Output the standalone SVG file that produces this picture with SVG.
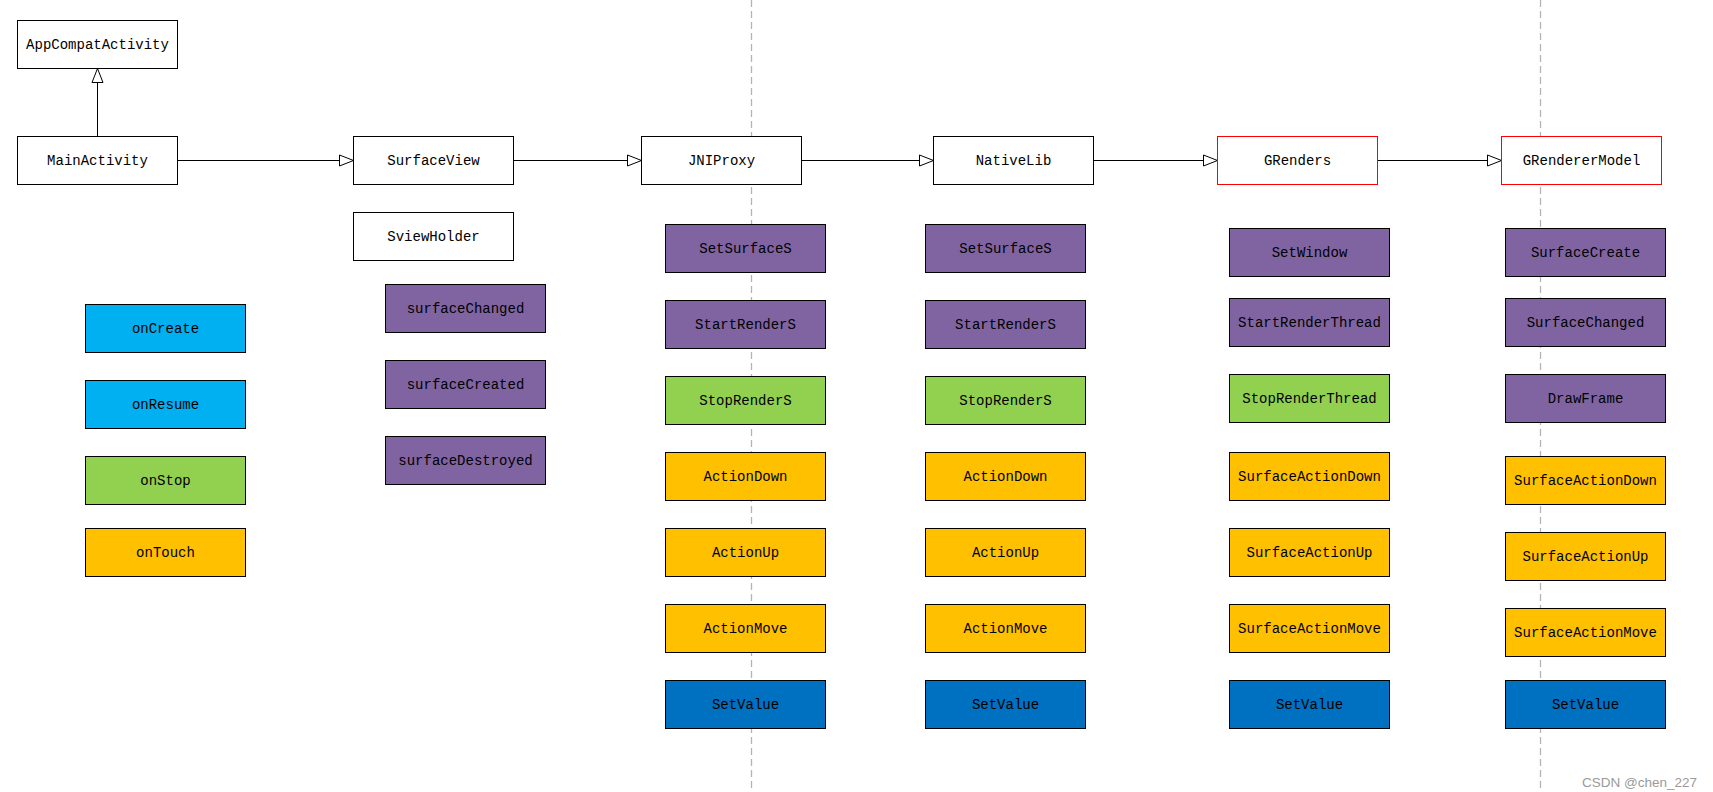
<svg xmlns="http://www.w3.org/2000/svg" width="1713" height="792" viewBox="0 0 1713 792">
<style>
  .b rect { stroke: #000; stroke-width: 1; }
  .w rect { fill: #fff; }
  .red rect { fill: #fff; stroke: #ff0000; }
  .pu rect { fill: #8064a2; }
  .lb rect { fill: #00b0f0; }
  .gr rect { fill: #92d050; }
  .or rect { fill: #ffc000; }
  .db rect { fill: #0070c0; }
  text { font-family: "Liberation Mono", "DejaVu Sans Mono", monospace; font-size: 14px; fill: #000; text-anchor: middle; dominant-baseline: central; }
  .dash { stroke: #b4b4b4; stroke-width: 1.3; stroke-dasharray: 7 4; fill: none; }
  .conn line { stroke: #000; stroke-width: 1; }
  .wm { font-family: "Liberation Sans", Arial, sans-serif; font-size: 13.5px; fill: #9a9a9a; text-anchor: end; }
</style>
<defs>
  <marker id="tri" markerUnits="userSpaceOnUse" markerWidth="16" markerHeight="13" refX="14" refY="5.5" orient="auto" overflow="visible">
    <path d="M0,0 L14,5.5 L0,11 Z" fill="#fff" stroke="#000" stroke-width="1"/>
  </marker>
</defs>
<rect x="0" y="0" width="1713" height="792" fill="#fff"/>
<g id="lanes">
  <line class="dash" x1="751.5" y1="0" x2="751.5" y2="792"/>
  <line class="dash" x1="1540.5" y1="0" x2="1540.5" y2="792"/>
</g>
<g id="connectors" class="conn">
  <line x1="97.5" y1="136.5" x2="97.5" y2="68.5" marker-end="url(#tri)"/>
  <line x1="177.5" y1="160.5" x2="353.5" y2="160.5" marker-end="url(#tri)"/>
  <line x1="513.5" y1="160.5" x2="641.5" y2="160.5" marker-end="url(#tri)"/>
  <line x1="801.5" y1="160.5" x2="933.5" y2="160.5" marker-end="url(#tri)"/>
  <line x1="1093.5" y1="160.5" x2="1217.5" y2="160.5" marker-end="url(#tri)"/>
  <line x1="1377.5" y1="160.5" x2="1501.5" y2="160.5" marker-end="url(#tri)"/>
</g>
<g id="AppCompatActivity" class="b w"><rect x="17.5" y="20.5" width="160" height="48"/><text x="97.5" y="44.5">AppCompatActivity</text></g>
<g id="MainActivity" class="b w"><rect x="17.5" y="136.5" width="160" height="48"/><text x="97.5" y="160.5">MainActivity</text></g>
<g id="SurfaceView" class="b w"><rect x="353.5" y="136.5" width="160" height="48"/><text x="433.5" y="160.5">SurfaceView</text></g>
<g id="SviewHolder" class="b w"><rect x="353.5" y="212.5" width="160" height="48"/><text x="433.5" y="236.5">SviewHolder</text></g>
<g id="JNIProxy" class="b w"><rect x="641.5" y="136.5" width="160" height="48"/><text x="721.5" y="160.5">JNIProxy</text></g>
<g id="NativeLib" class="b w"><rect x="933.5" y="136.5" width="160" height="48"/><text x="1013.5" y="160.5">NativeLib</text></g>
<g id="GRenders" class="b red"><rect x="1217.5" y="136.5" width="160" height="48"/><text x="1297.5" y="160.5">GRenders</text></g>
<g id="GRendererModel" class="b red"><rect x="1501.5" y="136.5" width="160" height="48"/><text x="1581.5" y="160.5">GRendererModel</text></g>

<g id="onCreate" class="b lb"><rect x="85.5" y="304.5" width="160" height="48"/><text x="165.5" y="328.5">onCreate</text></g>
<g id="onResume" class="b lb"><rect x="85.5" y="380.5" width="160" height="48"/><text x="165.5" y="404.5">onResume</text></g>
<g id="onStop" class="b gr"><rect x="85.5" y="456.5" width="160" height="48"/><text x="165.5" y="480.5">onStop</text></g>
<g id="onTouch" class="b or"><rect x="85.5" y="528.5" width="160" height="48"/><text x="165.5" y="552.5">onTouch</text></g>

<g id="surfaceChanged" class="b pu"><rect x="385.5" y="284.5" width="160" height="48"/><text x="465.5" y="308.5">surfaceChanged</text></g>
<g id="surfaceCreated" class="b pu"><rect x="385.5" y="360.5" width="160" height="48"/><text x="465.5" y="384.5">surfaceCreated</text></g>
<g id="surfaceDestroyed" class="b pu"><rect x="385.5" y="436.5" width="160" height="48"/><text x="465.5" y="460.5">surfaceDestroyed</text></g>

<g id="jni-SetSurfaceS" class="b pu"><rect x="665.5" y="224.5" width="160" height="48"/><text x="745.5" y="248.5">SetSurfaceS</text></g>
<g id="jni-StartRenderS" class="b pu"><rect x="665.5" y="300.5" width="160" height="48"/><text x="745.5" y="324.5">StartRenderS</text></g>
<g id="jni-StopRenderS" class="b gr"><rect x="665.5" y="376.5" width="160" height="48"/><text x="745.5" y="400.5">StopRenderS</text></g>
<g id="jni-ActionDown" class="b or"><rect x="665.5" y="452.5" width="160" height="48"/><text x="745.5" y="476.5">ActionDown</text></g>
<g id="jni-ActionUp" class="b or"><rect x="665.5" y="528.5" width="160" height="48"/><text x="745.5" y="552.5">ActionUp</text></g>
<g id="jni-ActionMove" class="b or"><rect x="665.5" y="604.5" width="160" height="48"/><text x="745.5" y="628.5">ActionMove</text></g>
<g id="jni-SetValue" class="b db"><rect x="665.5" y="680.5" width="160" height="48"/><text x="745.5" y="704.5">SetValue</text></g>

<g id="nl-SetSurfaceS" class="b pu"><rect x="925.5" y="224.5" width="160" height="48"/><text x="1005.5" y="248.5">SetSurfaceS</text></g>
<g id="nl-StartRenderS" class="b pu"><rect x="925.5" y="300.5" width="160" height="48"/><text x="1005.5" y="324.5">StartRenderS</text></g>
<g id="nl-StopRenderS" class="b gr"><rect x="925.5" y="376.5" width="160" height="48"/><text x="1005.5" y="400.5">StopRenderS</text></g>
<g id="nl-ActionDown" class="b or"><rect x="925.5" y="452.5" width="160" height="48"/><text x="1005.5" y="476.5">ActionDown</text></g>
<g id="nl-ActionUp" class="b or"><rect x="925.5" y="528.5" width="160" height="48"/><text x="1005.5" y="552.5">ActionUp</text></g>
<g id="nl-ActionMove" class="b or"><rect x="925.5" y="604.5" width="160" height="48"/><text x="1005.5" y="628.5">ActionMove</text></g>
<g id="nl-SetValue" class="b db"><rect x="925.5" y="680.5" width="160" height="48"/><text x="1005.5" y="704.5">SetValue</text></g>

<g id="gr-SetWindow" class="b pu"><rect x="1229.5" y="228.5" width="160" height="48"/><text x="1309.5" y="252.5">SetWindow</text></g>
<g id="gr-StartRenderThread" class="b pu"><rect x="1229.5" y="298.5" width="160" height="48"/><text x="1309.5" y="322.5">StartRenderThread</text></g>
<g id="gr-StopRenderThread" class="b gr"><rect x="1229.5" y="374.5" width="160" height="48"/><text x="1309.5" y="398.5">StopRenderThread</text></g>
<g id="gr-SurfaceActionDown" class="b or"><rect x="1229.5" y="452.5" width="160" height="48"/><text x="1309.5" y="476.5">SurfaceActionDown</text></g>
<g id="gr-SurfaceActionUp" class="b or"><rect x="1229.5" y="528.5" width="160" height="48"/><text x="1309.5" y="552.5">SurfaceActionUp</text></g>
<g id="gr-SurfaceActionMove" class="b or"><rect x="1229.5" y="604.5" width="160" height="48"/><text x="1309.5" y="628.5">SurfaceActionMove</text></g>
<g id="gr-SetValue" class="b db"><rect x="1229.5" y="680.5" width="160" height="48"/><text x="1309.5" y="704.5">SetValue</text></g>

<g id="gm-SurfaceCreate" class="b pu"><rect x="1505.5" y="228.5" width="160" height="48"/><text x="1585.5" y="252.5">SurfaceCreate</text></g>
<g id="gm-SurfaceChanged" class="b pu"><rect x="1505.5" y="298.5" width="160" height="48"/><text x="1585.5" y="322.5">SurfaceChanged</text></g>
<g id="gm-DrawFrame" class="b pu"><rect x="1505.5" y="374.5" width="160" height="48"/><text x="1585.5" y="398.5">DrawFrame</text></g>
<g id="gm-SurfaceActionDown" class="b or"><rect x="1505.5" y="456.5" width="160" height="48"/><text x="1585.5" y="480.5">SurfaceActionDown</text></g>
<g id="gm-SurfaceActionUp" class="b or"><rect x="1505.5" y="532.5" width="160" height="48"/><text x="1585.5" y="556.5">SurfaceActionUp</text></g>
<g id="gm-SurfaceActionMove" class="b or"><rect x="1505.5" y="608.5" width="160" height="48"/><text x="1585.5" y="632.5">SurfaceActionMove</text></g>
<g id="gm-SetValue" class="b db"><rect x="1505.5" y="680.5" width="160" height="48"/><text x="1585.5" y="704.5">SetValue</text></g>

<text class="wm" x="1697" y="782">CSDN @chen_227</text>
</svg>
